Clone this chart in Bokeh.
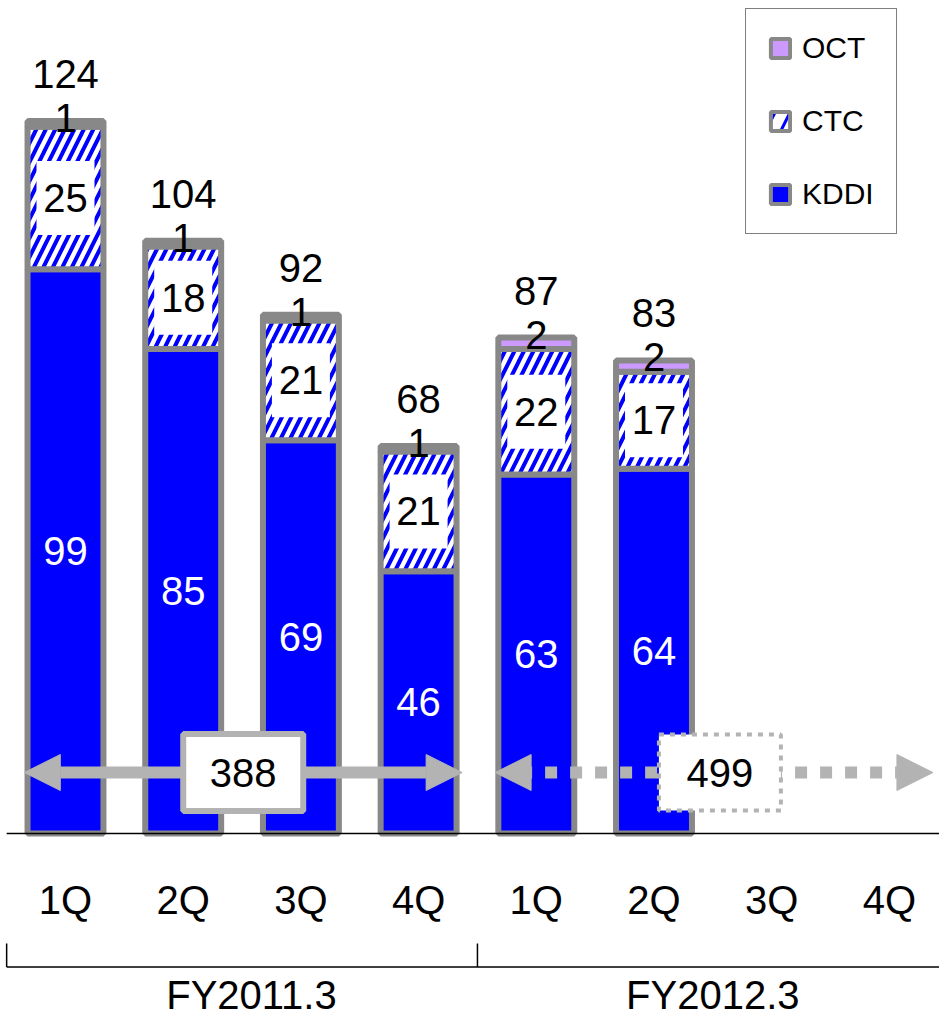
from bokeh.plotting import figure
from bokeh.models import (Range1d, ColumnDataSource, Arrow, NormalHead, Legend,
                          LegendItem)
from bokeh.core.properties import value
from bokeh.embed import file_html
from bokeh.resources import INLINE

# ---- data -------------------------------------------------------------
quarters = ["1Q", "2Q", "3Q", "4Q", "1Q", "2Q", "3Q", "4Q"]
fiscal_years = ["FY2011.3", "FY2012.3"]
kddi = [99, 85, 69, 46, 63, 64]
ctc = [25, 18, 21, 21, 22, 17]
oct_ = [1, 1, 1, 1, 2, 2]
totals = [124, 104, 92, 68, 87, 83]
year_totals = [388, 499]

# ---- styling ----------------------------------------------------------
FONT_NAME = "Liberation Sans"
FONT = value(FONT_NAME)
BLUE = "#0000ff"
EDGE = "#888888"
LILAC = "#cc99ff"
ARROW_GREY = "#b3b3b3"
PX_PER_CAT = 117.7
PX_PER_UNIT = 5.7
W, H = 939, 1019
BASE_PX = 833
LEFT_PX = 65

p = figure(width=W, height=H, output_backend="svg", toolbar_location=None,
           x_range=Range1d(-LEFT_PX / PX_PER_CAT, (W - LEFT_PX) / PX_PER_CAT),
           y_range=Range1d(-(H - BASE_PX) / PX_PER_UNIT, BASE_PX / PX_PER_UNIT),
           min_border=0, x_axis_location=None, y_axis_location=None,
           outline_line_color=None, background_fill_color="white")
p.xgrid.visible = False
p.ygrid.visible = False

BW = 0.645

# legend swatches: tiny bars drawn underneath the first column, styled for the key
key = dict(x=[0], bottom=[20], top=[30], width=0.2, level="underlay")
lg_oct = p.vbar(fill_color=LILAC, line_color=EDGE, line_width=4, **key)
lg_ctc = p.vbar(fill_color="white", line_color=EDGE, line_width=4,
                hatch_pattern="/", hatch_color=BLUE, hatch_scale=30, hatch_weight=3, **key)
lg_kddi = p.vbar(fill_color=BLUE, line_color=EDGE, line_width=4, **key)

n = len(kddi)
xs = list(range(n))
c_top = [a + b for a, b in zip(kddi, ctc)]
o_top = [a + b for a, b in zip(c_top, oct_)]
src = ColumnDataSource(dict(
    x=xs, k_top=kddi, c_top=c_top, o_top=o_top,
    k_mid=[v / 2 for v in kddi],
    c_mid=[a + b / 2 for a, b in zip(kddi, ctc)],
    k_lbl=[str(v) for v in kddi], c_lbl=[str(v) for v in ctc],
    o_lbl=[str(v) for v in oct_], t_lbl=[str(v) for v in totals],
))

p.vbar(x="x", bottom=0, top="k_top", width=BW, source=src,
       fill_color=BLUE, line_color=EDGE, line_width=6)
p.vbar(x="x", bottom="k_top", top="c_top", width=BW, source=src,
       fill_color="white", line_color=EDGE, line_width=6,
       hatch_pattern="/", hatch_color=BLUE, hatch_scale=19, hatch_weight=4)
p.vbar(x="x", bottom="c_top", top="o_top", width=BW, source=src,
       fill_color=LILAC, line_color=EDGE, line_width=6)

# white panels behind the CTC values
p.rect(x="x", y="c_mid", width=58, height=74, width_units="screen",
       height_units="screen", source=src, fill_color="white", line_color=None)

txt = dict(text_font=FONT, text_font_size="40px", text_align="center",
           text_baseline="middle")
p.text(x="x", y="k_mid", text="k_lbl", source=src, text_color="white", **txt)
p.text(x="x", y="c_mid", text="c_lbl", source=src, text_color="black", **txt)
p.text(x="x", y="o_top", text="o_lbl", source=src, text_color="black",
       y_offset=-3, **txt)
p.text(x="x", y="o_top", text="t_lbl", source=src, text_color="black",
       y_offset=-47, **txt)

# baseline
x_lo, x_hi = -0.5, (W - LEFT_PX) / PX_PER_CAT
p.segment(x0=[x_lo], y0=[0], x1=[x_hi], y1=[0], line_color="black", line_width=1.5)

# fiscal-year arrows with totals
ARROW_Y = 10.7
group = 4
for gi, tot in enumerate(year_totals):
    first = gi * group
    x0 = first - 0.35
    x1 = first + group - 1 + 0.37
    dashed = gi == 1
    head = dict(size=36, fill_color=ARROW_GREY, line_color=ARROW_GREY, line_width=1)
    arr = Arrow(start=NormalHead(**head), end=NormalHead(**head),
                x_start=x0, y_start=ARROW_Y, x_end=x1, y_end=ARROW_Y,
                line_color=ARROW_GREY, line_width=12,
                line_dash="12 13" if dashed else "solid")
    p.add_layout(arr)
    cx = first + 1.5 + (0.06 if dashed else 0.01)
    if dashed:
        p.rect(x=[cx], y=[ARROW_Y], width=122, height=76, width_units="screen",
               height_units="screen", fill_color="white", line_color=ARROW_GREY,
               line_width=4, line_dash="5 6", level="overlay")
    else:
        p.rect(x=[cx], y=[ARROW_Y], width=120, height=77, width_units="screen",
               height_units="screen", fill_color="white", line_color=ARROW_GREY,
               line_width=6, level="overlay")
    p.text(x=[cx], y=[ARROW_Y], text=[str(tot)], text_color="black",
           level="overlay", **txt)

# quarter labels and fiscal-year bracket
p.text(x=list(range(len(quarters))), y=[-11.75] * len(quarters), text=quarters,
       text_color="black", **txt)
BR_Y = -23.4
p.segment(x0=[x_lo], y0=[BR_Y], x1=[x_hi], y1=[BR_Y], line_color="black", line_width=1.5)
p.segment(x0=[-0.5, 3.5], y0=[BR_Y, BR_Y], x1=[-0.5, 3.5], y1=[-19.3, -19.3],
          line_color="black", line_width=1.5)
p.text(x=[1.58, 5.5], y=[-28.4, -28.4], text=fiscal_years, text_color="black", **txt)

legend = Legend(items=[LegendItem(label="OCT", renderers=[lg_oct]),
                       LegendItem(label="CTC", renderers=[lg_ctc]),
                       LegendItem(label="KDDI", renderers=[lg_kddi])],
                location=(745, 785), orientation="vertical",
                label_text_font=FONT_NAME, label_text_font_size="30px",
                label_text_color="black",
                label_height=34, glyph_width=24, glyph_height=24,
                spacing=39, padding=22, margin=0, label_standoff=10,
                border_line_color="black", border_line_width=1.5,
                background_fill_color="white", background_fill_alpha=1)
p.add_layout(legend)

open("out.html", "w").write(file_html(p, INLINE))
